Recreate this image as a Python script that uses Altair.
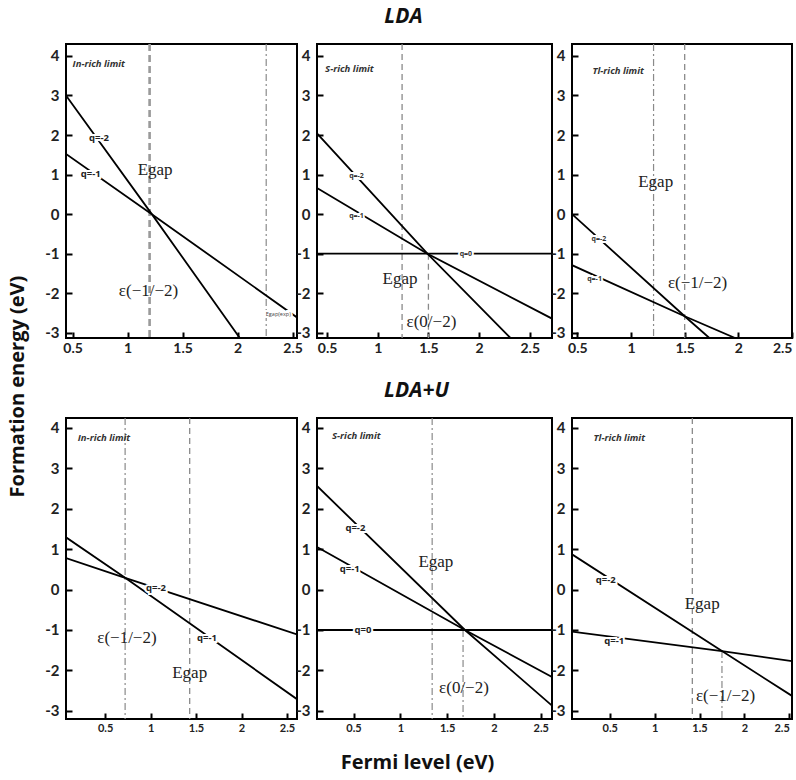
import altair as alt
import pandas as pd

# ---------------- data ----------------
X_TICKS = [0.5, 1, 1.5, 2, 2.5]
Y_TICKS = [-3, -2, -1, 0, 1, 2, 3, 4]

top_ydom = [-3.13, 4.3]
bot_ydom = [-3.2, 4.24]

# LDA, In-rich limit
lda_in_xdom = [0.44, 2.54]
lda_in_q2_x = [0.44, 1.22, 2.02]
lda_in_q2_y = [3.0, 0.0, -3.13]
lda_in_q1_x = [0.44, 1.22, 2.54]
lda_in_q1_y = [1.52, 0.0, -2.61]
lda_in_vline_x = [1.2, 2.26]
lda_in_vline_top = [4.3, 4.3]
lda_in_vline_style = ["thick", "dashdot"]

# LDA, S-rich limit
lda_s_xdom = [0.40, 2.72]
lda_s_q2_x = [0.40, 1.49, 2.31]
lda_s_q2_y = [2.04, -1.0, -3.13]
lda_s_q1_x = [0.40, 1.49, 2.72]
lda_s_q1_y = [0.66, -1.0, -2.64]
lda_s_q0_x = [0.40, 2.72]
lda_s_q0_y = [-1.0, -1.0]
lda_s_vline_x = [1.24, 1.50]
lda_s_vline_top = [4.3, -1.0]
lda_s_vline_style = ["dash", "dash"]

# LDA, Tl-rich limit
lda_tl_xdom = [0.45, 2.5]
lda_tl_q2_x = [0.45, 1.5, 1.73]
lda_tl_q2_y = [0.0, -2.58, -3.13]
lda_tl_q1_x = [0.45, 1.5, 1.97]
lda_tl_q1_y = [-1.29, -2.58, -3.13]
lda_tl_vline_x = [1.21, 1.5]
lda_tl_vline_top = [4.3, 4.3]
lda_tl_vline_style = ["dashdot", "dash"]

# LDA+U, In-rich limit
ldau_in_xdom = [0.07, 2.61]
ldau_in_a_x = [0.07, 0.72, 2.61]
ldau_in_a_y = [1.29, 0.29, -2.71]
ldau_in_b_x = [0.07, 0.72, 2.61]
ldau_in_b_y = [0.78, 0.29, -1.11]
ldau_in_vline_x = [0.72, 1.43]
ldau_in_vline_top = [4.24, 4.24]
ldau_in_vline_style = ["dashdot", "dash"]

# LDA+U, S-rich limit
ldau_s_xdom = [0.11, 2.62]
ldau_s_q2_x = [0.11, 1.69, 2.62]
ldau_s_q2_y = [2.56, -1.0, -2.87]
ldau_s_q1_x = [0.11, 1.69, 2.62]
ldau_s_q1_y = [1.05, -1.0, -2.16]
ldau_s_q0_x = [0.11, 2.62]
ldau_s_q0_y = [-1.0, -1.0]
ldau_s_vline_x = [1.34, 1.67]
ldau_s_vline_top = [4.24, -1.0]
ldau_s_vline_style = ["dashdot", "dashdot"]

# LDA+U, Tl-rich limit
ldau_tl_xdom = [0.08, 2.53]
ldau_tl_q2_x = [0.08, 1.75, 2.53]
ldau_tl_q2_y = [0.87, -1.52, -2.63]
ldau_tl_q1_x = [0.08, 1.75, 2.53]
ldau_tl_q1_y = [-1.04, -1.52, -1.77]
ldau_tl_vline_x = [1.42, 1.75]
ldau_tl_vline_top = [4.24, -1.52]
ldau_tl_vline_style = ["dash", "dashdot"]

# annotations: text, x, y, kind
lda_in_text = [("In-rich limit", 0.50, 3.79, "limit"), ("q=-2", 0.74, 1.93, "q"),
               ("q=-1", 0.665, 1.01, "q"), ("Egap", 1.25, 1.12, "serif"),
               ("ε(−1/−2)", 1.19, -1.94, "serif"), ("Egap(exp)", 2.37, -2.53, "tiny")]
lda_s_text = [("S-rich limit", 0.48, 3.66, "limit"), ("q=-2", 0.79, 0.96, "qs"),
              ("q=-1", 0.79, -0.05, "qs"), ("q=0", 1.87, -1.0, "qs"),
              ("Egap", 1.22, -1.65, "serif"), ("ε(0/−2)", 1.53, -2.72, "serif")]
lda_tl_text = [("Tl-rich limit", 0.64, 3.62, "limit"), ("q=-2", 0.70, -0.63, "qs"),
               ("q=-1", 0.66, -1.64, "qs"), ("Egap", 1.23, 0.8, "serif"),
               ("ε(−1/−2)", 1.62, -1.75, "serif")]
ldau_in_text = [("In-rich limit", 0.20, 3.74, "limit"), ("q=-2", 1.06, 0.04, "q"),
                ("q=-1", 1.62, -1.2, "q"), ("ε(−1/−2)", 0.74, -1.19, "serif"),
                ("Egap", 1.43, -2.06, "serif")]
ldau_s_text = [("S-rich limit", 0.27, 3.8, "limit"), ("q=-2", 0.52, 1.53, "q"),
               ("q=-1", 0.46, 0.5, "q"), ("q=0", 0.6, -1.0, "q"),
               ("Egap", 1.38, 0.67, "serif"), ("ε(0/−2)", 1.68, -2.44, "serif")]
ldau_tl_text = [("Tl-rich limit", 0.32, 3.75, "limit"), ("q=-2", 0.455, 0.23, "q"),
                ("q=-1", 0.55, -1.26, "q"), ("Egap", 1.53, -0.35, "serif"),
                ("ε(−1/−2)", 1.79, -2.63, "serif")]

# ---------------- styling ----------------
LABEL_FONT = "Lato"
TITLE_FONT = "Open Sans"
SERIF = "Liberation Serif"
VSTYLE = {
    "thick": dict(color="#9a9a9a", strokeWidth=2.6, strokeDash=[7, 4]),
    "dash": dict(color="#8a8a8a", strokeWidth=1.3, strokeDash=[6, 4]),
    "dashdot": dict(color="#8a8a8a", strokeWidth=1.2, strokeDash=[7, 3, 2, 3]),
}
TEXT_STYLE = {
    "limit": dict(font=TITLE_FONT, fontStyle="italic", fontWeight="bold", fontSize=9.5,
                  color="#333", align="left", baseline="middle"),
    "q": dict(font=TITLE_FONT, fontWeight="bold", fontSize=9.5, color="#222",
              align="center", baseline="middle"),
    "qs": dict(font=TITLE_FONT, fontWeight="bold", fontSize=7, color="#333",
               align="center", baseline="middle"),
    "serif": dict(font=SERIF, fontSize=17, color="#222", align="center", baseline="middle"),
    "tiny": dict(font=TITLE_FONT, fontSize=5.5, color="#444", align="center", baseline="middle"),
}


def make_panel(xdom, ydom, lines, vx, vtop, vstyle, texts, width, height,
               xlabel_size=14, title=None, title_dx=0, x_title=None, y_title=None,
               flush=False):
    xs = alt.Scale(domain=xdom, nice=False, zero=False)
    ys = alt.Scale(domain=ydom, nice=False, zero=False)
    xkw = {"title": None}
    if x_title:
        xkw = dict(title=x_title, titleFont=TITLE_FONT, titleFontSize=20, titleFontWeight="bold",
                   titleColor="#111", titlePadding=19, titleX=100, titleAlign="center")
    ykw = {"title": None}
    if y_title:
        ykw = dict(title=y_title, titleFont=TITLE_FONT, titleFontSize=20, titleFontWeight="bold",
                   titleColor="#111", titleX=-45, titleY=-32, titleAngle=270,
                   titleAlign="center", titleBaseline="bottom")
    xax = alt.Axis(values=X_TICKS, labelExpr="datum.value + ''", grid=False, domain=False,
                   tickSize=6, tickWidth=2, tickColor="black", offset=-6,
                   labelFont=LABEL_FONT, labelFontWeight="bold", labelFontSize=xlabel_size,
                   labelColor="#222", labelFlush=(4 if flush else False), labelOverlap=False,
                   labelPadding=3, **xkw)
    yax = alt.Axis(values=Y_TICKS, labelExpr="datum.value + ''", grid=False, domain=False,
                   tickSize=6, tickWidth=2, tickColor="black", offset=-6,
                   labelFont=LABEL_FONT, labelFontWeight="bold", labelFontSize=15,
                   labelColor="#222", labelFlush=False, labelOverlap=False, labelPadding=7,
                   **ykw)

    rows = []
    for name, xv, yv in lines:
        for i, (a, b) in enumerate(zip(xv, yv)):
            rows.append({"series": name, "i": i, "x": a, "y": b})
    ldf = pd.DataFrame(rows)

    layers = []
    for st in ["thick", "dash", "dashdot"]:
        vd = pd.DataFrame([{"x": a, "y0": t, "y1": ydom[0]}
                           for a, t, s in zip(vx, vtop, vstyle) if s == st])
        if len(vd) == 0:
            continue
        layers.append(alt.Chart(vd).mark_rule(**VSTYLE[st]).encode(
            x=alt.X("x:Q", scale=xs, axis=xax),
            y=alt.Y("y0:Q", scale=ys, axis=yax),
            y2="y1:Q"))

    layers.append(alt.Chart(ldf).mark_line(color="black", strokeWidth=1.8, clip=True).encode(
        x=alt.X("x:Q", scale=xs, axis=xax),
        y=alt.Y("y:Q", scale=ys, axis=yax),
        detail="series:N",
        order="i:Q"))

    for kind in ["limit", "q", "qs", "serif", "tiny"]:
        td = pd.DataFrame([{"t": t, "x": a, "y": b} for t, a, b, k in texts if k == kind])
        if len(td) == 0:
            continue
        enc = dict(x=alt.X("x:Q", scale=xs, axis=xax), y=alt.Y("y:Q", scale=ys, axis=yax),
                   text="t:N")
        if kind in ("q", "qs", "tiny"):
            halo = dict(TEXT_STYLE[kind])
            halo.update(stroke="white", strokeWidth=4, color="white")
            layers.append(alt.Chart(td).mark_text(**halo).encode(**enc))
        layers.append(alt.Chart(td).mark_text(**TEXT_STYLE[kind]).encode(**enc))

    ch = alt.layer(*layers).properties(width=width, height=height)
    if title:
        ch = ch.properties(title=alt.TitleParams(title, font=TITLE_FONT, fontSize=21,
                                                 fontStyle="italic", fontWeight="bold",
                                                 color="#111", offset=16, dx=title_dx))
    return ch


W = [231, 235, 220]
HT, HB = 294, 301

tl = make_panel(lda_in_xdom, top_ydom,
                [("q=-2", lda_in_q2_x, lda_in_q2_y), ("q=-1", lda_in_q1_x, lda_in_q1_y)],
                lda_in_vline_x, lda_in_vline_top, lda_in_vline_style, lda_in_text, W[0], HT)
tm = make_panel(lda_s_xdom, top_ydom,
                [("q=-2", lda_s_q2_x, lda_s_q2_y), ("q=-1", lda_s_q1_x, lda_s_q1_y),
                 ("q=0", lda_s_q0_x, lda_s_q0_y)],
                lda_s_vline_x, lda_s_vline_top, lda_s_vline_style, lda_s_text, W[1], HT,
                title="LDA", title_dx=-31)
tr = make_panel(lda_tl_xdom, top_ydom,
                [("q=-2", lda_tl_q2_x, lda_tl_q2_y), ("q=-1", lda_tl_q1_x, lda_tl_q1_y)],
                lda_tl_vline_x, lda_tl_vline_top, lda_tl_vline_style, lda_tl_text, W[2], HT,
                flush=True)
bl = make_panel(ldau_in_xdom, bot_ydom,
                [("a", ldau_in_a_x, ldau_in_a_y), ("b", ldau_in_b_x, ldau_in_b_y)],
                ldau_in_vline_x, ldau_in_vline_top, ldau_in_vline_style, ldau_in_text, W[0], HB,
                xlabel_size=11, y_title="Formation energy (eV)")
bm = make_panel(ldau_s_xdom, bot_ydom,
                [("q=-2", ldau_s_q2_x, ldau_s_q2_y), ("q=-1", ldau_s_q1_x, ldau_s_q1_y),
                 ("q=0", ldau_s_q0_x, ldau_s_q0_y)],
                ldau_s_vline_x, ldau_s_vline_top, ldau_s_vline_style, ldau_s_text, W[1], HB,
                xlabel_size=11, title="LDA+U", title_dx=-18, x_title="Fermi level (eV)")
br = make_panel(ldau_tl_xdom, bot_ydom,
                [("q=-2", ldau_tl_q2_x, ldau_tl_q2_y), ("q=-1", ldau_tl_q1_x, ldau_tl_q1_y)],
                ldau_tl_vline_x, ldau_tl_vline_top, ldau_tl_vline_style, ldau_tl_text, W[2], HB,
                xlabel_size=11, flush=True)

chart = alt.concat(tl, tm, tr, bl, bm, br, columns=3, spacing={"row": 80, "column": 20},
                   bounds="flush").configure_view(
    stroke="black", strokeWidth=2
).properties(padding={"left": 5, "top": 5, "right": 0, "bottom": 2}, background="white")

chart.save("out.html", embed_options={"renderer": "svg", "actions": False})
